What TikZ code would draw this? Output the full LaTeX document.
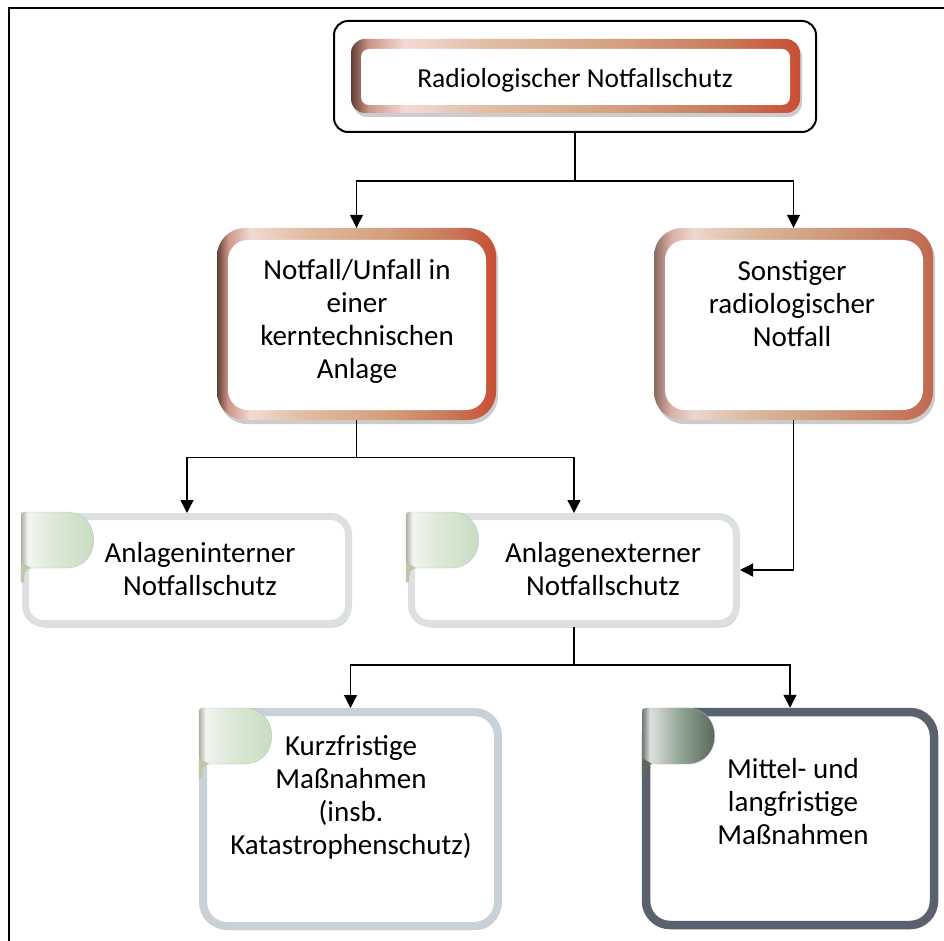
\documentclass[tikz,border=0pt]{standalone}
\usepackage{fontspec}
\setmainfont{Carlito}
\usetikzlibrary{arrows.meta,shadows}

% copper border gradients
\definecolor{cuA}{RGB}{98,62,52}
\definecolor{cuB}{RGB}{205,150,135}
\definecolor{cuC}{RGB}{242,218,212}
\definecolor{cuD}{RGB}{225,190,165}
\definecolor{cuE}{RGB}{212,160,125}
\definecolor{cuF}{RGB}{200,120,90}
\definecolor{cuG}{RGB}{200,78,50}
\definecolor{cvA}{RGB}{140,105,96}
\definecolor{cvB}{RGB}{215,175,165}
\definecolor{cvC}{RGB}{236,214,206}
\definecolor{cvD}{RGB}{218,186,160}
\definecolor{cvE}{RGB}{205,150,120}
\definecolor{cvF}{RGB}{192,104,80}
\pgfdeclarehorizontalshading{copper}{100bp}{color(0bp)=(cuA); color(25bp)=(cuA); color(27bp)=(cuB); color(31bp)=(cuC); color(40bp)=(cuD); color(55bp)=(cuE); color(67bp)=(cuF); color(75bp)=(cuG); color(100bp)=(cuG)}
\pgfdeclarehorizontalshading{copperlight}{100bp}{color(0bp)=(cvA); color(25bp)=(cvA); color(28bp)=(cvB); color(32bp)=(cvC); color(42bp)=(cvD); color(58bp)=(cvE); color(75bp)=(cvF); color(100bp)=(cvF)}

% tab gradients
\definecolor{tgA}{RGB}{170,176,166}
\definecolor{tgB}{RGB}{242,244,240}
\definecolor{tgC}{RGB}{220,233,214}
\definecolor{tgD}{RGB}{196,218,188}
\definecolor{tdA}{RGB}{110,116,112}
\definecolor{tdB}{RGB}{222,224,222}
\definecolor{tdC}{RGB}{140,160,142}
\definecolor{tdD}{RGB}{72,88,80}
\pgfdeclarehorizontalshading{tabgreen}{100bp}{color(0bp)=(tgA); color(25bp)=(tgA); color(29bp)=(tgB); color(45bp)=(tgC); color(75bp)=(tgD); color(100bp)=(tgD)}
\pgfdeclarehorizontalshading{tabdark}{100bp}{color(0bp)=(tdA); color(25bp)=(tdA); color(30bp)=(tdB); color(50bp)=(tdC); color(75bp)=(tdD); color(100bp)=(tdD)}
\definecolor{curlgreen}{RGB}{190,200,168}
\definecolor{curldark}{RGB}{90,108,94}
\definecolor{tabedge}{RGB}{180,188,180}

% box borders
\definecolor{paleA}{RGB}{220,224,226}
\definecolor{paleB}{RGB}{200,209,214}
\definecolor{slate}{RGB}{89,96,110}

% folded tab at the top-left corner of a box: x0, y0, shading, curl colour
\newcommand\tabflag[4]{%
  \path[shade, shading=#3, draw=tabedge, line width=0.3pt]
    (#1,#2+4) .. controls (#1,#2+1) .. (#1+4,#2) -- (#1+45,#2)
    .. controls (#1+82,#2) and (#1+82,#2+56) .. (#1+45,#2+56)
    -- (#1+10,#2+56) .. controls (#1+4,#2+56) and (#1+2,#2+62) .. (#1+2,#2+70)
    -- (#1,#2+70) -- cycle;
  \fill[#4] (#1,#2+50) -- (#1+10,#2+56) .. controls (#1+4,#2+56) and (#1+3,#2+62) .. (#1+3,#2+70)
    -- (#1,#2+70) -- cycle;
}

\tikzset{
  softshadow/.style={drop shadow={shadow xshift=2pt, shadow yshift=-4pt, opacity=0.2, fill=black}},
  outline/.style={draw=black, line width=2pt, rounded corners=14pt, fill=white, inner sep=0pt},
  cubox/.style={shade, shading=#1, softshadow, inner sep=0pt},
  whitein/.style={fill=white, inner sep=0pt},
  lightbox/.style={fill=white, line width=7pt, rounded corners=18pt, softshadow, inner sep=0pt},
  bigbox/.style={fill=white, line width=8pt, rounded corners=24pt, softshadow, inner sep=0pt},
  txt/.style={align=center, inner sep=0pt, font=\fontsize{29}{33}\selectfont},
  conn/.style={line width=1.4pt, black},
  arr/.style={conn, -{Triangle[width=13pt,length=13pt]}}
}

\begin{document}
\begin{tikzpicture}[x=1pt, y=-1pt]
\useasboundingbox (0,0) rectangle (944,941);

% page frame
\draw[line width=2.2pt] (9,941) -- (9,8) -- (944,8);

% title
\node[outline, minimum width=482pt, minimum height=111pt] (top) at (575,76.5) {};
\node[cubox=copper, rounded corners=14pt, minimum width=449pt, minimum height=74pt] (top-cu) at (575.5,76) {};
\node[whitein, rounded corners=8pt, minimum width=429pt, minimum height=56pt] (top-in) at (575.5,77) {};
\node[txt, font=\fontsize{27.5}{33}\selectfont, anchor=base] (top-t) at (575,88) {Radiologischer Notfallschutz};

% second level
\node[cubox=copper, rounded corners=28pt, minimum width=279pt, minimum height=192pt] (notfall) at (356.5,324) {};
\node[whitein, rounded corners=20pt, minimum width=258pt, minimum height=170pt] (notfall-in) at (357,325) {};
\node[txt] (notfall-t) at (357,321) {Notfall/Unfall in\\einer\\kerntechnischen\\Anlage};

\node[cubox=copperlight, rounded corners=28pt, minimum width=279pt, minimum height=192pt] (sonst) at (793.5,324) {};
\node[whitein, rounded corners=20pt, minimum width=258pt, minimum height=170pt] (sonst-in) at (794,325) {};
\node[txt] (sonst-t) at (792,304) {Sonstiger\\radiologischer\\Notfall};

% third level
\node[lightbox, draw=paleA, minimum width=323pt, minimum height=107pt] (intern) at (187,570) {};
\tabflag{21}{512}{tabgreen}{curlgreen}
\node[txt] (intern-t) at (200,569) {Anlageninterner\\Notfallschutz};

\node[lightbox, draw=paleA, minimum width=325pt, minimum height=107pt] (extern) at (574,570) {};
\tabflag{406}{512}{tabgreen}{curlgreen}
\node[txt] (extern-t) at (603,569) {Anlagenexterner\\Notfallschutz};

% fourth level
\node[bigbox, draw=paleB, minimum width=295pt, minimum height=214pt] (kurz) at (350.5,819) {};
\tabflag{199}{708}{tabgreen}{curlgreen}
\node[txt] (kurz-t) at (351,797.5) {Kurzfristige\\Maßnahmen\\(insb.\\Katastrophenschutz)};

\node[bigbox, draw=slate, line width=8.5pt, minimum width=288pt, minimum height=213pt] (mittel) at (790,818.5) {};
\tabflag{642}{708}{tabdark}{curldark}
\node[txt] (mittel-t) at (793,802) {Mittel- und\\langfristige\\Maßnahmen};

% connectors
\draw[conn] (top.south) -- ++(0,48) coordinate (j1);
\draw[arr] (j1) -| (notfall.north);
\draw[arr] (j1) -| (sonst.north);

\draw[conn] (notfall.south) -- ++(0,37) coordinate (j2);
\draw[arr] (j2) -| (intern.north);
\draw[arr] (j2) -| (extern.north);
\draw[arr] (sonst.south) |- (extern.east);

\draw[conn] (extern.south) -- ++(0,38) coordinate (j3);
\draw[arr] (j3) -| (kurz.north);
\draw[arr] (j3) -| (mittel.north);
\end{tikzpicture}
\end{document}
